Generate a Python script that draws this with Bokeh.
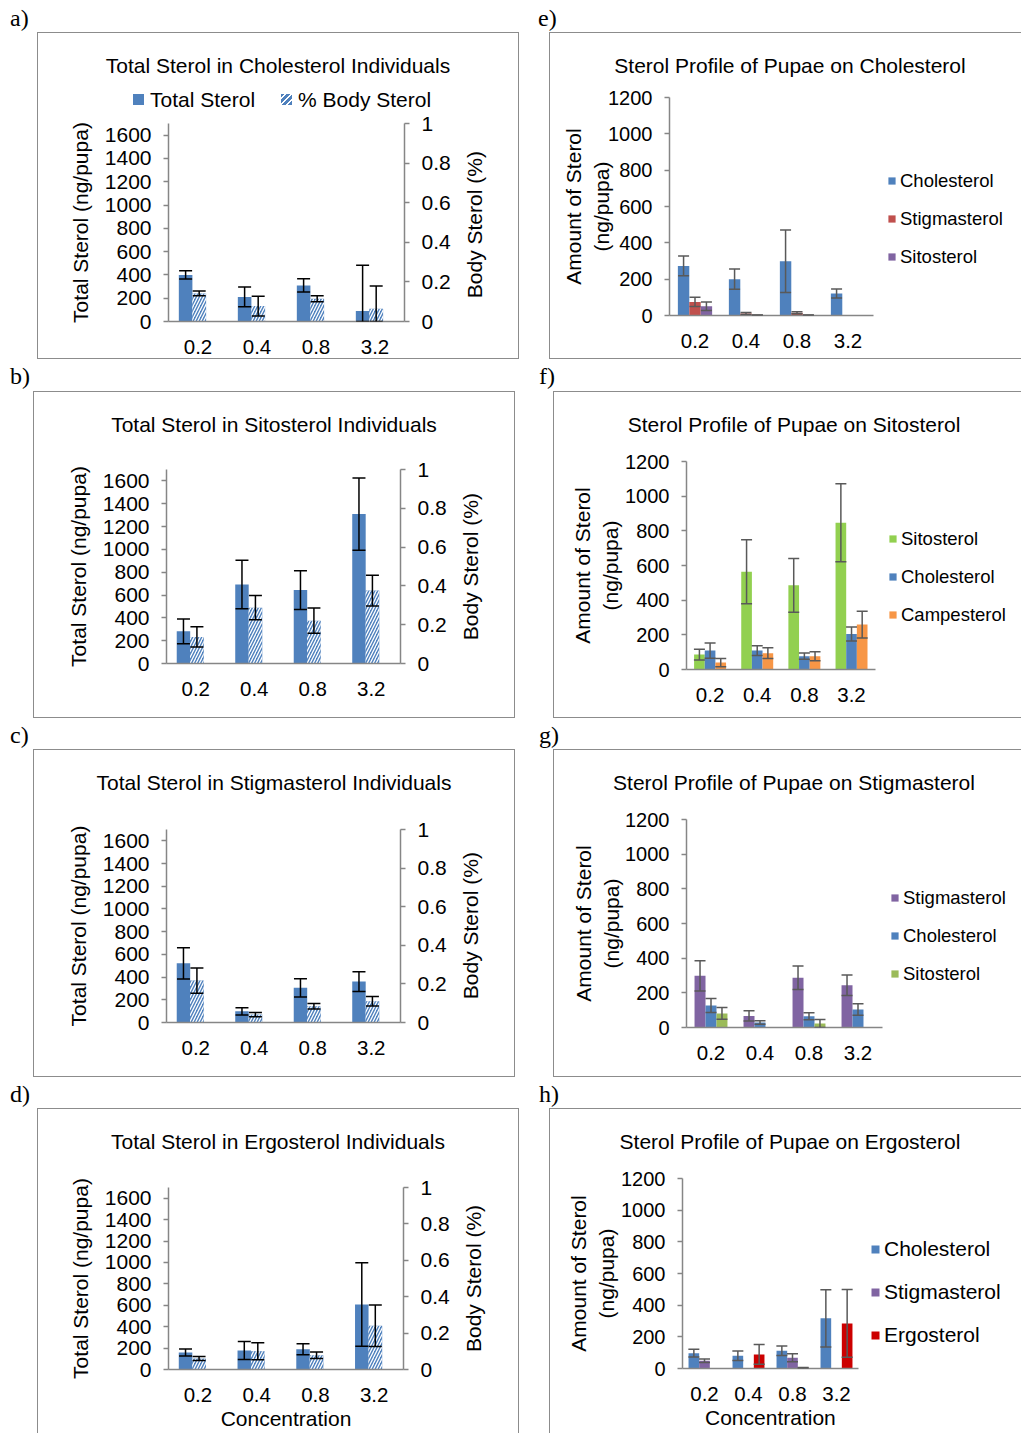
import math
from bokeh.plotting import figure
from bokeh.models import (ColumnDataSource, FactorRange, Range1d, LinearAxis, FixedTicker,
                          NumeralTickFormatter, Whisker, TeeHead, Legend, LegendItem, Div, Title)
from bokeh.layouts import column, row
from bokeh.transform import dodge
from bokeh.embed import file_html
from bokeh.resources import INLINE

conc = ["0.2", "0.4", "0.8", "3.2"]

# --- total sterol (ng/pupa) and body sterol share, per dietary sterol ---
chol_total = [400, 211, 310, 91]
chol_total_se = [35, 85, 56, 393]
chol_body = [0.142, 0.078, 0.115, 0.065]
chol_body_se = [0.012, 0.050, 0.015, 0.114]

sito_total = [282, 692, 643, 1309]
sito_total_se = [108, 212, 169, 317]
sito_body = [0.137, 0.288, 0.221, 0.376]
sito_body_se = [0.052, 0.062, 0.065, 0.079]

stig_total = [521, 99, 305, 361]
stig_total_se = [137, 32, 80, 87]
stig_body = [0.217, 0.041, 0.084, 0.110]
stig_body_se = [0.065, 0.011, 0.014, 0.025]

ergo_total = [158, 177, 189, 608]
ergo_total_se = [33, 84, 51, 390]
ergo_body = [0.060, 0.100, 0.078, 0.241]
ergo_body_se = [0.011, 0.047, 0.018, 0.114]

# --- sterol profiles of pupae (ng/pupa) ---
e_cholesterol = [273, 200, 299, 121]
e_cholesterol_se = [54, 56, 172, 25]
e_stigmasterol = [75, 11, 15, 0]
e_stigmasterol_se = [26, 5, 5, 0]
e_sitosterol = [51, 2, 2, 0]
e_sitosterol_se = [24, 1, 1, 0]

f_sitosterol = [86, 564, 486, 847]
f_sitosterol_se = [31, 185, 155, 225]
f_cholesterol = [109, 109, 77, 205]
f_cholesterol_se = [44, 28, 18, 40]
f_campesterol = [40, 94, 77, 259]
f_campesterol_se = [24, 31, 26, 77]

g_stigmasterol = [298, 67, 287, 244]
g_stigmasterol_se = [87, 29, 68, 59]
g_cholesterol = [127, 29, 65, 104]
g_cholesterol_se = [40, 10, 20, 33]
g_sitosterol = [81, 0, 23, 0]
g_sitosterol_se = [34, 0, 23, 0]

h_cholesterol = [97, 80, 112, 317]
h_cholesterol_se = [24, 30, 30, 181]
h_stigmasterol = [49, 0, 68, 0]
h_stigmasterol_se = [11, 0, 25, 0]
h_ergosterol = [0, 89, 4, 285]
h_ergosterol_se = [0, 62, 2, 214]

BLUE = "#4F81BD"
RED = "#C0504D"
PURPLE = "#8064A2"
GREEN = "#9BBB59"
LIME = "#92D050"
ORANGE = "#F79646"
CRIMSON = "#CC0000"
AXIS = "#868686"
FONT = "Liberation Sans"
NBSP = "\u00a0"
HATCH = dict(hatch_pattern="/", hatch_color="white", hatch_scale=6, hatch_weight=1.3)

# box size, frame borders (inside the box), heading band and outer margin of every panel
GEOM = {
    "a": dict(W=480, H=325, L=130, R=114, T=90, B=37, head=80, margin=(0, 22, 0, 38)),
    "b": dict(W=480, H=325, L=132, R=114, T=77, B=54, head=50, margin=(0, 26, 0, 34)),
    "c": dict(W=480, H=326, L=132, R=114, T=79, B=54, head=50, margin=(0, 26, 0, 34)),
    "d": dict(W=480, H=324, L=130, R=115, T=78, B=64, head=50, margin=(0, 22, 0, 38)),
    "e": dict(W=471, H=325, L=119, R=0, T=64, B=43, head=50, cat=51.0, margin=(0, 0, 0, 10)),
    "f": dict(W=467, H=325, L=132, R=0, T=69, B=48, head=50, cat=47.15, margin=(0, 0, 0, 14)),
    "g": dict(W=467, H=326, L=132, R=0, T=69, B=49, head=50, cat=49.0, margin=(0, 0, 0, 14)),
    "h": dict(W=471, H=324, L=132, R=0, T=69, B=65, head=50, cat=44.0, margin=(0, 0, 0, 10)),
}


def style_axis(ax, size="21px"):
    ax.axis_line_color = AXIS
    ax.axis_line_width = 1.5
    ax.major_tick_line_color = AXIS
    ax.major_tick_line_width = 1.5
    ax.major_tick_in = 0
    ax.major_tick_out = 5
    ax.minor_tick_line_color = None
    ax.major_label_text_font = FONT
    ax.major_label_text_font_size = size
    ax.major_label_text_color = "black"
    ax.axis_label_text_font = FONT
    ax.axis_label_text_font_size = "21px"
    ax.axis_label_text_font_style = "normal"
    ax.axis_label_text_color = "black"


def make_fig(g, x_range, ymax, yticks, ylabel, ylabel_standoff, xlabel=None, tick_size="21px"):
    p = figure(width=g["W"], height=g["H"] - g["head"], title=None,
               x_range=x_range, y_range=Range1d(0, ymax),
               output_backend="svg", toolbar_location=None,
               min_border_left=g["L"], min_border_right=g["R"],
               min_border_top=g["T"] - g["head"], min_border_bottom=g["B"], margin=0)
    p.outline_line_color = None
    p.xgrid.visible = False
    p.ygrid.visible = False
    p.background_fill_color = "white"
    p.border_fill_color = "white"

    xa = p.xaxis[0]
    style_axis(xa, "20.5px")
    xa.major_tick_line_color = None
    xa.major_label_standoff = 13
    if xlabel:
        xa.axis_label = xlabel
        xa.axis_label_standoff = 2

    ya = p.yaxis[0]
    style_axis(ya, tick_size)
    ya.ticker = FixedTicker(ticks=yticks)
    ya.major_label_standoff = 12
    ya.axis_label = ylabel
    ya.axis_label_standoff = ylabel_standoff
    return p


SWATCH = "display:inline-block;width:11px;height:11px;vertical-align:middle;margin-right:6px;"
KEY_HTML = (
    '<div style="position:absolute;left:95px;top:54px;white-space:nowrap;line-height:21px">'
    f'<span style="{SWATCH}background:{BLUE}"></span>'
    '<span style="vertical-align:middle;margin-right:26px">Total Sterol</span>'
    f'<span style="{SWATCH}background:repeating-linear-gradient(135deg,{BLUE} 0 2.6px,#fff 2.6px 4.2px)"></span>'
    '<span style="vertical-align:middle">% Body Sterol</span></div>'
)


def boxed(g, title, p, key_html=""):
    head = Div(text=('<div style="position:relative;width:480px;height:' + str(g["head"]) + 'px;'
                     'font-family:\'Liberation Sans\',sans-serif;font-size:21px;color:#000">'
                     '<div style="position:absolute;left:0;top:22px;width:480px;line-height:21px;'
                     'text-align:center;white-space:nowrap">' + title + '</div>'
                     + key_html + '</div>'),
               width=g["W"], height=g["head"], margin=0)
    return column(head, p, width=g["W"], height=g["H"], margin=g["margin"],
                  styles={"outline": "1.5px solid #8c8c8c", "background": "white"})


def whisker(p, src, base, hi, lo, color, size, **kw):
    w = Whisker(base=base, upper=hi, lower=lo, source=src,
                line_color=color, line_width=1.5, level="overlay",
                upper_head=TeeHead(size=size, line_color=color, line_width=1.5),
                lower_head=TeeHead(size=size, line_color=color, line_width=1.5), **kw)
    p.add_layout(w)


def total_panel(key, title, total, total_se, body, body_se, pad, legend=False, xlabel=None):
    g = GEOM[key]
    p = make_fig(g, FactorRange(factors=conc), 1700, list(range(0, 1601, 200)),
                 "Total Sterol (ng/pupa)", 10, xlabel)

    p.extra_y_ranges = {"pct": Range1d(0, 1)}
    ra = LinearAxis(y_range_name="pct", ticker=FixedTicker(ticks=[0, 0.2, 0.4, 0.6, 0.8, 1]),
                    formatter=NumeralTickFormatter(format="0.[0]"))
    style_axis(ra)
    ra.major_label_standoff = 12
    ra.axis_label = NBSP * pad + "Body Sterol (%)"
    ra.axis_label_standoff = 21
    ra.axis_label_align = "start"
    ra.axis_label_orientation = math.pi / 2
    p.add_layout(ra, "right")

    src = ColumnDataSource(dict(
        x=conc, total=total, body=body,
        t_hi=[v + e for v, e in zip(total, total_se)],
        t_lo=[max(0, v - e) for v, e in zip(total, total_se)],
        b_hi=[v + e for v, e in zip(body, body_se)],
        b_lo=[max(0, v - e) for v, e in zip(body, body_se)],
    ))
    p.vbar(x=dodge("x", -0.21, range=p.x_range), top="total", width=0.23, source=src,
           fill_color=BLUE, line_color=None)
    p.vbar(x=dodge("x", 0.02, range=p.x_range), top="body", width=0.235, source=src,
           y_range_name="pct", fill_color=BLUE, line_color=None, **HATCH)
    whisker(p, src, dodge("x", -0.21, range=p.x_range), "t_hi", "t_lo", "black", 13)
    whisker(p, src, dodge("x", 0.02, range=p.x_range), "b_hi", "b_lo", "black", 13,
            y_range_name="pct")

    return boxed(g, title, p, KEY_HTML if legend else "")


def profile_panel(key, title, series, width, legend_left, legend_cy, legend_font, pitch,
                  ylabel_standoff, xlabel=None):
    g = GEOM[key]
    n_cat = len(conc)
    # linear x scale: one unit per concentration, extra room on the right for the legend
    p = make_fig(g, Range1d(0, (g["W"] - g["L"]) / g["cat"]), 1200, list(range(0, 1201, 200)),
                 "Amount of Sterol\n(ng/pupa)", ylabel_standoff, None, tick_size="20px")
    xpos = [i + 0.5 for i in range(n_cat)]
    xa = p.xaxis[0]
    xa.ticker = FixedTicker(ticks=xpos)
    xa.major_label_overrides = {x: c for x, c in zip(xpos, conc)}
    xa.bounds = (0, n_cat)
    if xlabel:
        # centred under the concentration axis rather than the whole strip
        text_w = 131
        p.add_layout(Title(text=xlabel, align="left",
                           offset=(n_cat * g["cat"] - text_w) / 2, standoff=0,
                           text_font=FONT, text_font_size="21px", text_font_style="normal",
                           text_color="black"), "below")

    items = []
    n = len(series)
    for i, (name, vals, errs, color) in enumerate(series):
        off = (i - (n - 1) / 2) * width
        src = ColumnDataSource(dict(x=xpos, v=vals))
        r = p.vbar(x=dodge("x", off), top="v", width=width, source=src,
                   fill_color=color, line_color=None)
        items.append(LegendItem(label=name, renderers=[r]))
        keep = [k for k in range(n_cat) if errs[k] > 0]
        esrc = ColumnDataSource(dict(
            x=[xpos[k] for k in keep],
            hi=[vals[k] + errs[k] for k in keep],
            lo=[max(0, vals[k] - errs[k]) for k in keep],
        ))
        whisker(p, esrc, dodge("x", off), "hi", "lo", "#595959", 11)

    lab_h = 21
    spacing = pitch - lab_h
    leg_h = n * lab_h + (n - 1) * spacing
    glyph = 10 if legend_font == "21px" else 9
    leg = Legend(items=items, orientation="vertical",
                 location=(legend_left - g["L"], (g["H"] - g["B"]) - (legend_cy + leg_h / 2)),
                 glyph_width=glyph, glyph_height=glyph,
                 label_standoff=4, spacing=spacing, label_height=lab_h, padding=0, margin=0,
                 border_line_color=None, background_fill_alpha=0,
                 label_text_font=FONT, label_text_font_size=legend_font,
                 label_text_color="black")
    p.add_layout(leg)
    return boxed(g, title, p)


def letter(txt, w, h, dx):
    html = ('<div style="font-family:\'Liberation Serif\',serif;font-size:24px;'
            f'line-height:24px;margin:6px 0 0 {dx}px;color:#000;white-space:nowrap">{txt}</div>')
    return Div(text=html, width=w, height=h, margin=0)


pa = total_panel("a", "Total Sterol in Cholesterol Individuals",
                 chol_total, chol_total_se, chol_body, chol_body_se, 4, legend=True)
pb = total_panel("b", "Total Sterol in Sitosterol Individuals",
                 sito_total, sito_total_se, sito_body, sito_body_se, 4)
pc = total_panel("c", "Total Sterol in Stigmasterol Individuals",
                 stig_total, stig_total_se, stig_body, stig_body_se, 4)
pd_ = total_panel("d", "Total Sterol in Ergosterol Individuals",
                  ergo_total, ergo_total_se, ergo_body, ergo_body_se, 3, xlabel="Concentration")

pe = profile_panel("e", "Sterol Profile of Pupae on Cholesterol", [
    ("Cholesterol", e_cholesterol, e_cholesterol_se, BLUE),
    ("Stigmasterol", e_stigmasterol, e_stigmasterol_se, RED),
    ("Sitosterol", e_sitosterol, e_sitosterol_se, PURPLE),
], 0.224, 337, 187, "18.5px", 37, -8)
pf = profile_panel("f", "Sterol Profile of Pupae on Sitosterol", [
    ("Sitosterol", f_sitosterol, f_sitosterol_se, LIME),
    ("Cholesterol", f_cholesterol, f_cholesterol_se, BLUE),
    ("Campesterol", f_campesterol, f_campesterol_se, ORANGE),
], 0.226, 334, 186, "18.5px", 37, 0)
pg = profile_panel("g", "Sterol Profile of Pupae on Stigmasterol", [
    ("Stigmasterol", g_stigmasterol, g_stigmasterol_se, PURPLE),
    ("Cholesterol", g_cholesterol, g_cholesterol_se, BLUE),
    ("Sitosterol", g_sitosterol, g_sitosterol_se, GREEN),
], 0.224, 336, 187, "18.5px", 37, -1)
ph = profile_panel("h", "Sterol Profile of Pupae on Ergosterol", [
    ("Cholesterol", h_cholesterol, h_cholesterol_se, BLUE),
    ("Stigmasterol", h_stigmasterol, h_stigmasterol_se, PURPLE),
    ("Ergosterol", h_ergosterol, h_ergosterol_se, CRIMSON),
], 0.242, 320, 187, "21px", 40, 0, xlabel="Concentration")

root = column(
    row(column(letter("a)", 540, 33, 10), pa), column(letter("e)", 481, 33, -2), pe)),
    row(column(letter("b)", 540, 34, 10), pb), column(letter("f)", 481, 34, -1), pf)),
    row(column(letter("c)", 540, 33, 10), pc), column(letter("g)", 481, 33, -1), pg)),
    row(column(letter("d)", 540, 33, 10), pd_), column(letter("h)", 481, 33, -1), ph)),
)

open("out.html", "w").write(file_html(root, INLINE))
